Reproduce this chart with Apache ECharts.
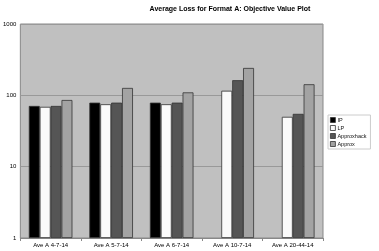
<!DOCTYPE html>
<html><head><meta charset="utf-8">
<script src="https://cdn.jsdelivr.net/npm/echarts@6/dist/echarts.min.js"></script>
<style>html,body{margin:0;padding:0;background:#fff}#c{width:379px;height:251px}</style>
</head><body><div id="c"></div>
<script>
const categories = ['Ave A 4-7-14','Ave A 5-7-14','Ave A 6-7-14','Ave A 10-7-14','Ave A 20-44-14'];
const ipValues = [71, 79, 79, null, null];
const lpValues = [69, 75, 75, 116, 50];
const approxhackValues = [71, 79, 79, 163, 55];
const approxValues = [86, 127, 110, 242, 143];
const yTicks = [1, 10, 100, 1000];

const font = 'Arial, "Liberation Sans", sans-serif';
function bar(name, data, color) {
  return { name, type: 'bar', data, barGap: '0%', barCategoryGap: '28%',
    itemStyle: { color, borderColor: '#333', borderWidth: 0.8 } };
}
const chart = echarts.init(document.getElementById('c'), null, { renderer: 'canvas' });
chart.setOption({
  animation: false,
  title: { text: 'Average Loss for Format A: Objective Value Plot', left: 225, top: 1, textAlign: 'center',
    textStyle: { fontSize: 7, fontWeight: 'bold', fontFamily: font, color: '#000' } },
  grid: { left: 17, right: 56, top: 24, bottom: 13, show: true, backgroundColor: '#c0c0c0', borderColor: '#888', borderWidth: 1 },
  legend: { orient: 'vertical', left: 328, top: 115, icon: 'rect', itemWidth: 5, itemHeight: 5, itemGap: 2,
    padding: [2, 4, 2, 2], borderColor: '#ccc', borderWidth: 1, backgroundColor: '#fff',
    textStyle: { fontSize: 5.5, fontFamily: font, color: '#111', padding: [0, 0, 0, -3] },
    data: ['IP', 'LP', 'Approxhack', 'Approx'].map(n => ({ name: n, itemStyle: { borderColor: '#333', borderWidth: 0.8 } })) },
  xAxis: { type: 'category', data: categories,
    axisLine: { lineStyle: { color: '#888' } }, axisTick: { show: true, length: 3, lineStyle: { color: '#888' } },
    axisLabel: { fontSize: 6, fontFamily: font, color: '#000', margin: 4 } },
  yAxis: { type: 'log', min: 1, max: 1000, logBase: 10,
    axisLine: { show: false }, axisTick: { show: false },
    axisLabel: { fontSize: 6, fontFamily: font, color: '#000', margin: 4, formatter: v => yTicks.includes(v) ? String(v) : '' },
    splitLine: { lineStyle: { color: '#999', width: 1 } } },
  series: [
    bar('IP', ipValues, '#000000'),
    bar('LP', lpValues, '#fafafa'),
    bar('Approxhack', approxhackValues, '#555555'),
    bar('Approx', approxValues, '#a3a3a3')
  ]
});
</script></body></html>
